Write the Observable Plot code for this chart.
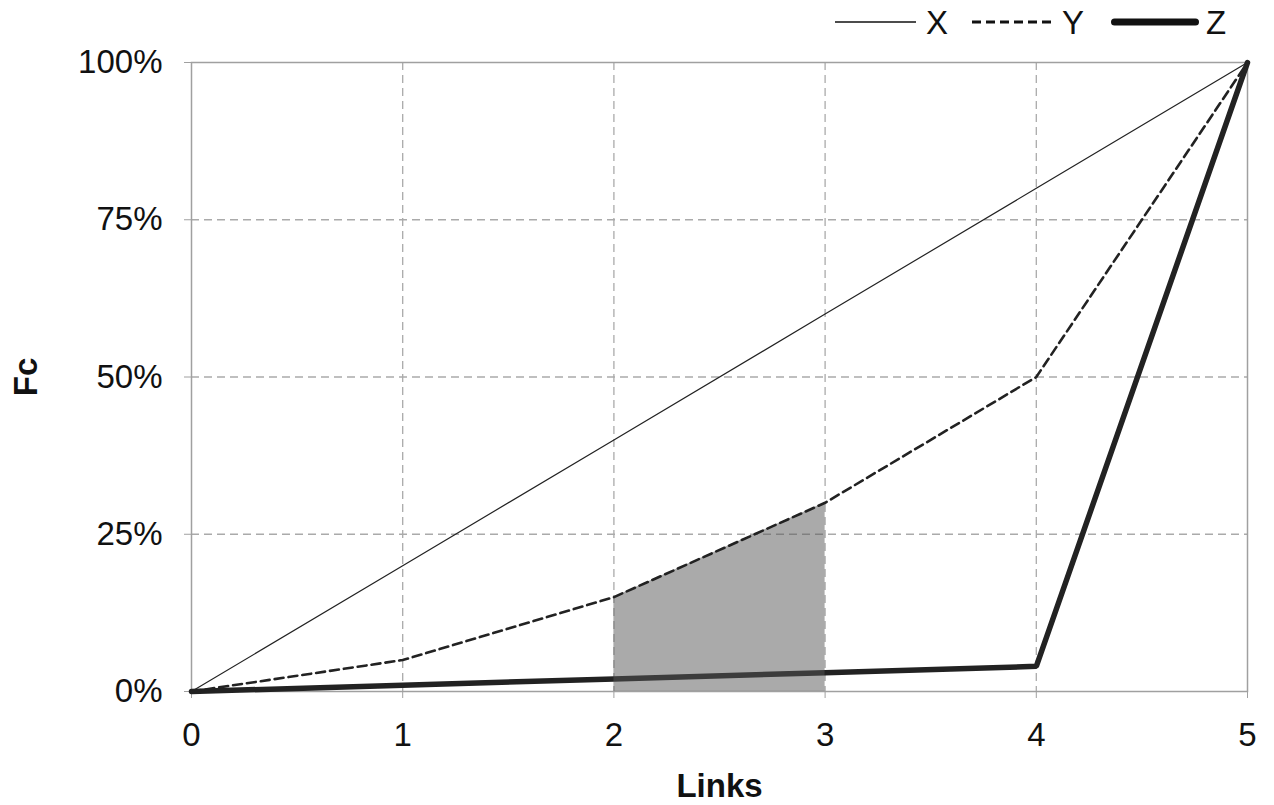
<!DOCTYPE html>
<html>
<head>
<meta charset="utf-8">
<script src="https://cdn.jsdelivr.net/npm/d3@7"></script>
<script src="https://cdn.jsdelivr.net/npm/@observablehq/plot@0.6"></script>
<style>
  body { margin: 0; background: #fff; font-family: "Liberation Sans", Arial, sans-serif; }
  #legend { position: relative; z-index: 1; height: 30px; width: 1274px; }
  #legend svg, #legend span { position: absolute; display: block; }
  #legend span { font-size: 33px; line-height: 33px; color: #111; top: 6px; }
  #chart svg [aria-label="x-axis label"] text,
  #chart svg [aria-label="y-axis label"] text { font-weight: bold; }
</style>
</head>
<body>
<div id="legend"></div>
<div id="chart"></div>
<script>
const links = [0, 1, 2, 3, 4, 5];
const seriesX = [0, 0.20, 0.40, 0.60, 0.80, 1.00];
const seriesY = [0, 0.05, 0.15, 0.30, 0.50, 1.00];
const seriesZ = [0, 0.01, 0.02, 0.03, 0.04, 1.00];
const yTicks = [0, 0.25, 0.50, 0.75, 1.00];
const shadeFrom = 2, shadeTo = 3;

const rows = (vals) => links.map((l, i) => ({links: l, fc: vals[i]}));
const dX = rows(seriesX), dY = rows(seriesY), dZ = rows(seriesZ);
const dShade = dY.filter(d => d.links >= shadeFrom && d.links <= shadeTo);

// Legend (HTML)
const legendItems = [
  {name: "X", lineLeft: 835, w: 81, textLeft: 926, sw: 1.5, dash: null, cap: "butt"},
  {name: "Y", lineLeft: 972, w: 79, textLeft: 1062, sw: 3, dash: "9,5", cap: "butt"},
  {name: "Z", lineLeft: 1110, w: 90, textLeft: 1206, sw: 7, dash: null, cap: "round"}
];
const legend = document.getElementById("legend");
for (const it of legendItems) {
  const s = document.createElementNS("http://www.w3.org/2000/svg", "svg");
  s.setAttribute("width", it.w); s.setAttribute("height", 20);
  s.style.left = it.lineLeft + "px"; s.style.top = "12px";
  s.innerHTML = `<line x1="${it.cap === "round" ? it.sw / 2 + 1 : 0}" x2="${it.cap === "round" ? it.w - it.sw / 2 - 1 : it.w}" y1="10" y2="10" stroke="#111" stroke-width="${it.sw}" stroke-linecap="${it.cap}" ${it.dash ? `stroke-dasharray="${it.dash}"` : ""}/>`;
  legend.appendChild(s);
  const t = document.createElement("span");
  t.textContent = it.name;
  t.style.left = it.textLeft + "px";
  legend.appendChild(t);
}

const chart = Plot.plot({
  width: 1274,
  height: 775,
  marginTop: 32,
  marginBottom: 114,
  marginLeft: 191,
  marginRight: 27,
  style: {fontFamily: "'Liberation Sans', Arial, sans-serif", fontSize: "33px", color: "#111", background: "transparent"},
  x: {domain: [0, 5], ticks: links},
  y: {domain: [0, 1], ticks: yTicks},
  marks: [
    Plot.gridX(links.filter(l => l > 0 && l < 5), {stroke: "#aaa", strokeOpacity: 1, strokeDasharray: "8,5", strokeWidth: 1.3}),
    Plot.gridY(yTicks.filter(t => t > 0 && t < 1), {stroke: "#aaa", strokeOpacity: 1, strokeDasharray: "8,5", strokeWidth: 1.3}),
    Plot.frame({stroke: "#a0a0a0", strokeWidth: 1.5}),
    Plot.axisX({ticks: links, tickSize: 7, tickPadding: 24, stroke: "#a0a0a0", tickFormat: d => d, fontSize: 33,
      label: "Links", labelAnchor: "center", labelArrow: "none", labelOffset: 105}),
    Plot.axisY({ticks: yTicks, tickSize: 7, tickPadding: 22, stroke: "#a0a0a0", tickFormat: d => Math.round(d * 100) + "%", fontSize: 33,
      label: "Fc", labelAnchor: "center", labelArrow: "none", labelOffset: 178}),
    Plot.line(dX, {x: "links", y: "fc", stroke: "#222", strokeWidth: 1.2}),
    Plot.line(dZ, {x: "links", y: "fc", stroke: "#222", strokeWidth: 5.5, strokeLinejoin: "miter"}),
    Plot.areaY(dShade, {x: "links", y: "fc", fill: "#555", fillOpacity: 0.5}),
    Plot.line(dY, {x: "links", y: "fc", stroke: "#222", strokeWidth: 2.6, strokeDasharray: "9,5"})
  ]
});
document.getElementById("chart").appendChild(chart);
</script>
</body>
</html>
